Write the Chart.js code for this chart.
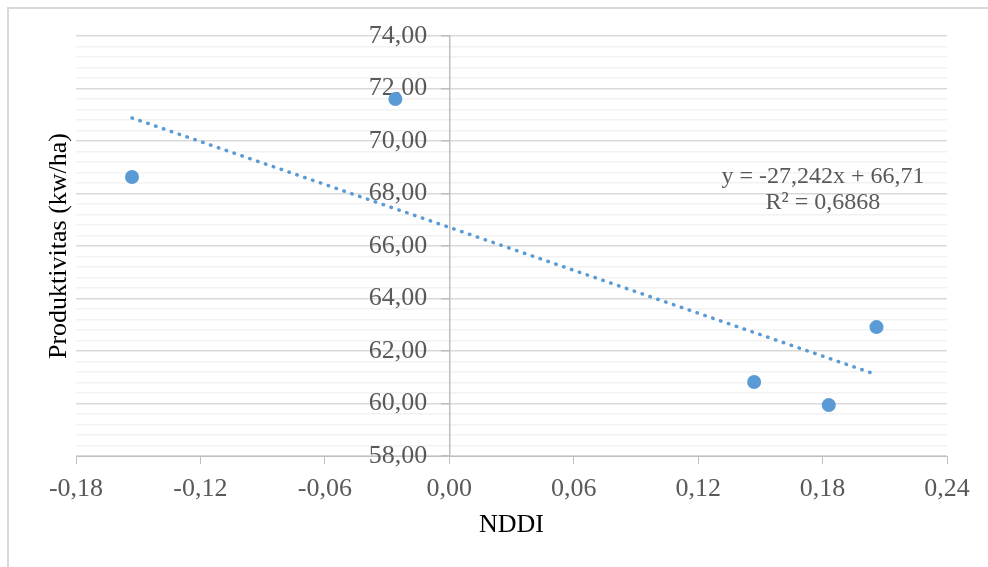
<!DOCTYPE html>
<html lang="id">
<head>
  <meta charset="UTF-8">
  <title>Produktivitas vs NDDI</title>
  <script src="https://cdn.jsdelivr.net/npm/chart.js"></script>
  <style>
    html, body { margin: 0; padding: 0; background: #fff; overflow: hidden; }
    .wrap { position: relative; width: 988px; height: 567px; overflow: hidden; }
    .frame { position: absolute; left: 7px; top: 7px; width: 1100px; height: 700px; border: 2px solid #d9d9d9; box-sizing: border-box; }
    canvas { position: absolute; left: 0; top: 0; }
  </style>
</head>
<body>
  <div class="wrap">
    <div class="frame"></div>
    <canvas id="nddiChart" width="988" height="567"></canvas>
  </div>

  <script>
    // observed points (NDDI, productivity kw/ha)
    const nddi = [-0.153, -0.026, 0.147, 0.183, 0.206];
    const produktivitas = [68.63, 71.60, 60.82, 59.94, 62.91];

    // trendline as printed on the chart
    const slope = -27.242;
    const intercept = 66.71;
    const eqLines = ['y = -27,242x + 66,71', 'R² = 0,6868'];
    const eqAnchor = { x: 0.1802, y: 68.63 };

    const xTicks = { min: -0.18, max: 0.24, step: 0.06 };
    const yTicks = { min: 58, max: 74, step: 0.4, major: 2 };

    const blue = '#5b9bd5';
    const serif = '"Liberation Serif", "Times New Roman", serif';
    const comma = (v, d) => v.toFixed(d).replace('.', ',');
    const isMajor = v => Math.abs(v / yTicks.major - Math.round(v / yTicks.major)) < 1e-6;

    const xMin = Math.min(...nddi), xMax = Math.max(...nddi);
    const trend = [xMin, xMax].map(x => ({ x, y: slope * x + intercept }));

    // y labels sit left of the crossing axis, clear of the tick marks, under the points
    const yLabelPlugin = {
      id: 'yLabels',
      beforeDatasetsDraw(chart) {
        const { ctx, scales: { x, y } } = chart;
        const ax = x.getPixelForValue(0);
        ctx.save();
        ctx.font = '26px ' + serif;
        ctx.fillStyle = '#595959';
        ctx.textAlign = 'right';
        ctx.textBaseline = 'middle';
        y.ticks.filter(t => isMajor(t.value)).forEach(t => {
          ctx.fillText(comma(t.value, 2), ax - 22, y.getPixelForValue(t.value));
        });
        ctx.restore();
      }
    };

    const equationPlugin = {
      id: 'equation',
      afterDatasetsDraw(chart) {
        const { ctx, scales: { x, y } } = chart;
        ctx.save();
        ctx.font = '24px ' + serif;
        ctx.fillStyle = '#595959';
        ctx.textAlign = 'center';
        ctx.textBaseline = 'middle';
        const px = x.getPixelForValue(eqAnchor.x);
        const py = y.getPixelForValue(eqAnchor.y);
        eqLines.forEach((t, i) => ctx.fillText(t, px, py + i * 26));
        ctx.restore();
      }
    };

    new Chart(document.getElementById('nddiChart').getContext('2d'), {
      type: 'scatter',
      data: {
        datasets: [{
          label: 'Produktivitas',
          data: nddi.map((x, i) => ({ x, y: produktivitas[i] })),
          backgroundColor: blue,
          borderColor: blue,
          borderWidth: 0,
          pointRadius: 7,
          order: 1
        }, {
          label: 'Linear',
          type: 'line',
          data: trend,
          borderColor: blue,
          borderWidth: 3.5,
          borderDash: [0.5, 7.8],
          borderCapStyle: 'round',
          pointRadius: 0,
          fill: false,
          order: 2
        }]
      },
      options: {
        responsive: false,
        animation: false,
        devicePixelRatio: 1,
        layout: { padding: { left: 0, right: 41, top: 36, bottom: 0 } },
        plugins: { legend: { display: false }, tooltip: { enabled: false } },
        scales: {
          x: {
            type: 'linear',
            position: 'bottom',
            min: xTicks.min,
            max: xTicks.max,
            afterFit: s => { s.height = 111; },
            ticks: {
              stepSize: xTicks.step,
              color: '#595959',
              font: { family: serif, size: 26 },
              padding: 10,
              maxRotation: 0,
              callback: v => comma(v, 2)
            },
            grid: { drawOnChartArea: false, drawTicks: true, tickLength: 8, tickColor: '#bfbfbf' },
            border: { color: '#bfbfbf', width: 1 },
            title: {
              display: true,
              text: 'NDDI',
              color: '#000',
              font: { family: serif, size: 26 },
              padding: { top: 0, bottom: 26 }
            }
          },
          y: {
            type: 'linear',
            position: { x: 0 },
            min: yTicks.min,
            max: yTicks.max,
            afterFit: s => { s.width = 0; },
            ticks: {
              stepSize: yTicks.step,
              autoSkip: false,
              color: 'rgba(0,0,0,0)',
              font: { family: serif, size: 26 },
              callback: v => isMajor(v) ? comma(v, 2) : ''
            },
            grid: {
              color: c => isMajor(c.tick.value) ? '#d9d9d9' : '#f2f2f2',
              lineWidth: 1.5,
              tickLength: 8,
              tickColor: c => isMajor(c.tick.value) ? '#bfbfbf' : 'rgba(0,0,0,0)'
            },
            border: { color: '#bfbfbf', width: 1.5 }
          },
          yTitle: {
            type: 'linear',
            position: 'left',
            min: yTicks.min,
            max: yTicks.max,
            afterFit: s => { s.width = 76; },
            ticks: { display: false },
            grid: { display: false },
            border: { display: false },
            title: {
              display: true,
              text: 'Produktivitas (kw/ha)',
              color: '#000',
              font: { family: serif, size: 26 },
              padding: { top: 44, bottom: 0 }
            }
          }
        }
      },
      plugins: [yLabelPlugin, equationPlugin]
    });
  </script>
</body>
</html>
